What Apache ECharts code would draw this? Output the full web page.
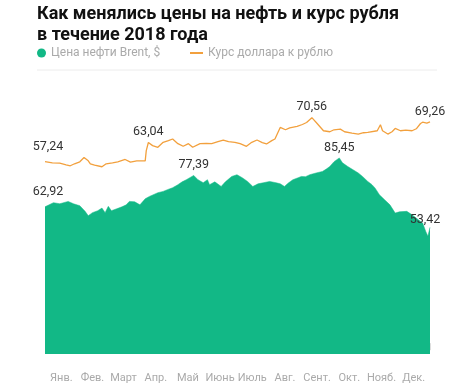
<!DOCTYPE html>
<html><head><meta charset="utf-8">
<script src="https://cdn.jsdelivr.net/npm/echarts@6/dist/echarts.min.js"></script>
<style>html,body{margin:0;padding:0;background:#fff}#c{width:474px;height:388px}</style>
</head><body><div id="c"></div>
<script>
// Day of year (0 = Jan 1, 365 = Dec 31 end)
const oilDays = [0,8,14,22,27,33,38,41,45,50,54,57,60,63,68,73,77,80,85,90,95,99,107,112,116,121,126,130,134,141,145,150,154,156,161,167,171,177,182,187,192,197,202,207,213,219,223,227,231,235,240,243,247,251,257,263,267,270,274,279,282,287,292,297,301,306,310,313,317,322,327,332,336,343,348,354,358,361,363,365];
const oilValues = [62.92,64.8,64.3,65.4,64.3,63.4,60.8,58.8,60.2,61.1,62.3,60.2,63.1,61.1,62.0,62.9,63.8,65.4,65.2,63.8,66.6,67.7,69.4,70.0,70.8,71.7,73.1,74.4,75.4,77.39,75.4,74.0,75.4,73.1,74.4,72.3,74.4,76.9,77.7,76.3,74.6,72.3,73.5,74.0,74.6,74.0,73.5,72.3,74.0,75.4,76.3,76.9,76.8,77.7,78.5,79.2,80.4,81.5,83.7,85.45,83.2,81.5,80.0,78.5,76.9,74.6,73.1,71.5,68.5,66.1,63.8,60.0,60.6,60.8,59.2,56.9,55.4,51.5,49.3,53.42];
const oilLabelIdx = [0, 29, 59, 79];

const rubDays = [0,7,14,20,24,28,33,37,41,43,47,54,58,64,69,76,81,87,95,96,98,102,107,112,117,121,126,131,136,140,147,153,158,164,169,174,180,185,191,196,201,206,210,215,218,223,228,232,239,244,248,253,258,264,270,274,280,284,291,297,302,306,315,318,320,325,329,332,337,342,348,352,356,358,362,365];
const rubValues = [57.24,56.9,56.8,56.3,56.0,56.6,57.2,58.5,57.5,56.6,56.2,55.7,56.6,56.9,57.2,57.9,57.1,57.5,57.5,60.6,63.04,62.1,61.6,63.1,63.6,64.1,62.7,61.9,62.7,61.6,62.7,62.8,62.7,63.3,63.8,63.3,63.1,62.7,61.9,63.1,63.8,63.0,62.6,63.6,64.1,67.6,66.9,67.5,67.9,68.5,69.1,70.56,68.8,66.6,66.3,66.9,67.1,66.3,65.9,65.6,66.0,66.1,66.6,68.4,66.6,65.6,66.3,67.3,66.6,66.8,66.6,67.2,68.8,69.2,68.9,69.26];
const rubLabelIdx = [0, 20, 51, 75];

const monthNames = ["Янв.","Фев.","Март","Апр.","Май","Июнь","Июль","Авг.","Сент.","Окт.","Нояб.","Дек."];
const monthStarts = [0,31,59,90,120,151,181,212,243,273,304,334,365];

const oilName = "Цена нефти Brent, $";
const rubName = "Курс доллара к рублю";
const GREEN = "#12b886";
const ORANGE = "#f2a03d";

const fmt = v => v.toFixed(2).replace('.', ',');
const labelStyle = {show:true, position:'top', distance:4, color:'#333', fontSize:12.5, fontFamily:'Roboto', formatter: p => fmt(p.data.value[1])};

function makeData(days, vals, labelIdx) {
  return days.map((d,i)=>{
    const item = {value:[d, vals[i]]};
    if (labelIdx.includes(i)) {
      item.label = Object.assign({}, labelStyle);
      if (i === 0) item.label.offset = [3, -4];
      if (i === days.length - 1 && labelIdx === oilLabelIdx) item.label.offset = [-5, 3];
    }
    return item;
  });
}
const oilData = makeData(oilDays, oilValues, oilLabelIdx);
const rubData = makeData(rubDays, rubValues, rubLabelIdx);

const labelDays = monthStarts.slice(0,12).map((s,i)=> (s + monthStarts[i+1]) / 2);

const chart = echarts.init(document.getElementById('c'), null, {renderer:'canvas'});
chart.setOption({
  animation:false,
  backgroundColor:'#fff',
  textStyle:{fontFamily:'Roboto'},
  title:{
    text:"Как менялись цены на нефть и курс рубля\nв течение 2018 года",
    left:37, top:4, padding:0,
    textStyle:{fontSize:18, fontWeight:'bold', color:'#111', lineHeight:21, fontFamily:'Roboto'}
  },
  legend:[
    {data:[oilName], left:37, top:47, padding:0, icon:'circle', itemWidth:9, itemHeight:9, itemGap:6,
     textStyle:{color:'#aaa', fontSize:12, fontFamily:'Roboto'}},
    {data:[rubName], left:190, top:47, padding:0, icon:'rect', itemWidth:13, itemHeight:2, itemGap:6,
     textStyle:{color:'#aaa', fontSize:12, fontFamily:'Roboto'}}
  ],
  graphic:[{type:'line', shape:{x1:37, y1:70, x2:437, y2:70}, style:{stroke:'#ececec', lineWidth:1}}],
  grid:{left:45, right:44, top:70, bottom:34},
  xAxis:{
    type:'value', min:0, max:365, offset:6,
    axisLine:{show:false},
    splitLine:{show:false},
    axisTick:{show:true, length:7, lineStyle:{color:'#ddd'}, customValues:monthStarts},
    axisLabel:{color:'#aaa', fontSize:11, margin:13, customValues:labelDays,
      formatter:(v)=>{ const i = labelDays.findIndex(x=>Math.abs(x-v)<0.01); return i>=0 ? monthNames[i] : ''; }}
  },
  yAxis:[
    {type:'value', min:-5, max:126, show:false},
    {type:'value', min:-1, max:85, show:false}
  ],
  series:[
    {name:oilName, type:'line', yAxisIndex:0, data:oilData, showSymbol:true, symbol:'circle', symbolSize:0,
     lineStyle:{width:0.5, color:GREEN}, itemStyle:{color:GREEN},
     areaStyle:{color:GREEN, opacity:1, origin:'start'}, z:2},
    {name:rubName, type:'line', yAxisIndex:1, data:rubData, showSymbol:true, symbol:'circle', symbolSize:0,
     lineStyle:{width:1.3, color:ORANGE}, itemStyle:{color:ORANGE}, z:3}
  ]
});
</script></body></html>
